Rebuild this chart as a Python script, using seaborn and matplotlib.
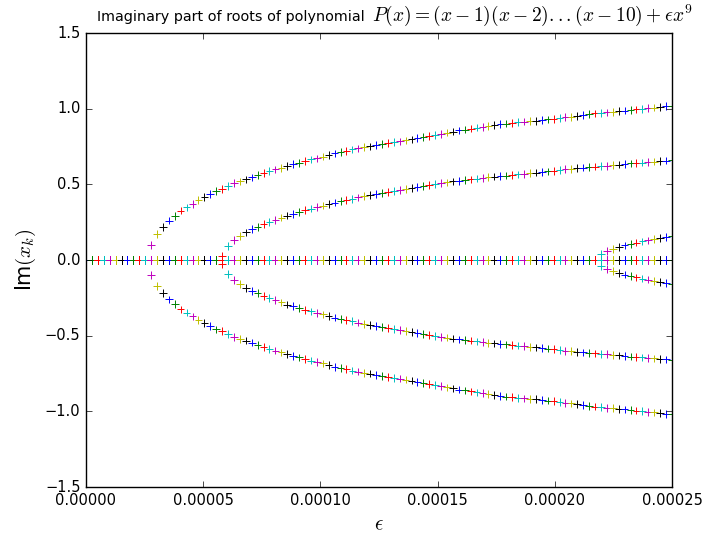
import numpy as np
import pandas as pd
import matplotlib
matplotlib.use('Agg')
import matplotlib.pyplot as plt
import seaborn as sns

# epsilon samples (100 evenly spaced values from 0 to 2.5e-4)
eps = np.linspace(0, 0.00025, 100)

branch_a = [0.0] * 11 + [
    0.099, 0.172, 0.220, 0.260, 0.291, 0.326, 0.348, 0.372, 0.396, 0.418,
    0.438, 0.458, 0.471, 0.489, 0.507, 0.520, 0.533, 0.546, 0.560, 0.573,
    0.588, 0.599, 0.610, 0.621, 0.634, 0.643, 0.654, 0.665, 0.672, 0.683,
    0.692, 0.705, 0.714, 0.722, 0.731, 0.738, 0.745, 0.751, 0.758, 0.767,
    0.773, 0.778, 0.784, 0.790, 0.797, 0.805, 0.812, 0.818, 0.826, 0.834,
    0.842, 0.848, 0.856, 0.862, 0.868, 0.875, 0.880, 0.885, 0.891, 0.897,
    0.902, 0.907, 0.911, 0.914, 0.917, 0.920, 0.924, 0.929, 0.932, 0.937,
    0.943, 0.947, 0.951, 0.957, 0.964, 0.969, 0.973, 0.976, 0.979, 0.983,
    0.987, 0.991, 0.995, 0.999, 1.003, 1.007, 1.011, 1.016, 1.020]
branch_b = [0.0] * 23 + [
    0.025, 0.092, 0.132, 0.159, 0.183, 0.203, 0.220, 0.236, 0.251, 0.264,
    0.280, 0.294, 0.304, 0.317, 0.329, 0.340, 0.349, 0.360, 0.370, 0.380,
    0.389, 0.397, 0.405, 0.414, 0.421, 0.428, 0.436, 0.444, 0.451, 0.457,
    0.462, 0.468, 0.475, 0.482, 0.488, 0.495, 0.501, 0.507, 0.513, 0.519,
    0.524, 0.529, 0.533, 0.538, 0.542, 0.547, 0.551, 0.555, 0.558, 0.562,
    0.566, 0.569, 0.573, 0.577, 0.581, 0.586, 0.589, 0.594, 0.600, 0.603,
    0.607, 0.611, 0.614, 0.617, 0.621, 0.623, 0.626, 0.630, 0.634, 0.638,
    0.641, 0.644, 0.647, 0.650, 0.653, 0.657, 0.661]
branch_c = [0.0] * 87 + [
    0.042, 0.060, 0.074, 0.086, 0.096, 0.106, 0.115, 0.123, 0.130, 0.137,
    0.145, 0.152, 0.158]

color_cycle = ['b', 'g', 'r', 'c', 'm', 'y', 'k']

# one row per root (10 roots for each epsilon)
rows = []
for i, e in enumerate(eps):
    vals = [branch_a[i], -branch_a[i], branch_b[i], -branch_b[i],
            branch_c[i], -branch_c[i], 0.0, 0.0, 0.0, 0.0]
    for v in vals:
        rows.append({'eps': e, 'imag': v, 'col': color_cycle[i % 7]})
df = pd.DataFrame(rows)

plt.style.use('classic')
fig = plt.figure(figsize=(7.06, 5.35), dpi=100, facecolor='white')
ax = fig.add_axes([0.1218, 0.0897, 0.83, 0.8486])

sns.scatterplot(data=df, x='eps', y='imag', hue='col', hue_order=color_cycle,
                palette={c: c for c in color_cycle}, marker='+', s=30,
                linewidth=0.7, legend=False, ax=ax)

ax.set_xlim(0, 0.00025)
ax.set_ylim(-1.5, 1.5)
ax.set_xticks([0, 0.00005, 0.0001, 0.00015, 0.0002, 0.00025])
ax.set_yticks([-1.5, -1.0, -0.5, 0.0, 0.5, 1.0, 1.5])
ax.ticklabel_format(axis='x', style='plain', useOffset=False)
ax.tick_params(labelsize=10.5)

# title: plain text part and the formula part
fig.text(97 / 706, 1 - 21 / 535, 'Imaginary part of roots of polynomial',
         fontsize=10.4, ha='left', va='baseline')
fig.text(372 / 706, 1 - 21 / 535, r'$P(x)=(x-1)(x-2)...(x-10)+\epsilon x^9$',
         fontsize=14, ha='left', va='baseline')

ax.set_xlabel(r'$\epsilon$', fontsize=15, labelpad=5)
ax.set_ylabel(r'Im$(x_k)$', fontsize=15)

fig.savefig('out.png', dpi=100, facecolor='white')
